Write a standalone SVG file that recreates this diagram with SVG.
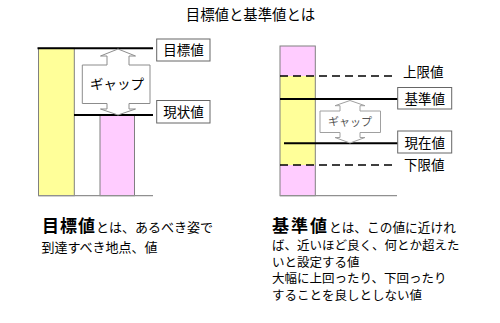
<svg xmlns="http://www.w3.org/2000/svg" width="500" height="323" viewBox="0 0 500 323">
<style>
text{font-family:"Liberation Sans","Noto Sans CJK JP",sans-serif;fill:#000}
.bar{stroke:#808080;stroke-width:1}
.y{fill:#FFFF99}
.p{fill:#FFCCFF}
.solid{stroke:#000;stroke-width:2;fill:none}
.dash{stroke:#000;stroke-width:1.5;stroke-dasharray:8 5;fill:none}
.base{stroke:#909090;stroke-width:1.2;fill:none}
.box{fill:#fff;stroke:#666;stroke-width:1}
.lbl{font-size:13.5px;text-anchor:middle}
.body{font-size:12.5px}
</style>
<text x="250.5" y="20" font-size="14.4" text-anchor="middle">目標値と基準値とは</text>

<g id="left-diagram">
  <g id="left-bars">
    <rect class="bar y" x="38.5" y="48.3" width="35.8" height="147.4"/>
    <rect class="bar p" x="100" y="115" width="34.5" height="80.7"/>
  </g>
  <g id="connectors-left">
    <line class="base" x1="38.5" y1="195.7" x2="153" y2="195.7"/>
    <line class="solid" x1="37.5" y1="48.3" x2="153" y2="48.3"/>
    <line class="solid" x1="74" y1="115" x2="153" y2="115"/>
  </g>
  <g id="gap-left">
    <polygon points="118,49 135.5,56 129,56 129,65 150,65 150,103.5 129,103.5 129,109 135.5,109 118,115 100.5,109 107,109 107,103.5 82.3,103.5 82.3,65 107,65 107,56 100.5,56" fill="#fff" stroke="#8c8c8c" stroke-width="1"/>
    <text x="117" y="88.5" font-size="13.5" text-anchor="middle">ギャップ</text>
  </g>
  <g id="label-target">
    <rect class="box" x="156.7" y="39" width="53.3" height="22"/>
    <text class="lbl" x="183.4" y="55">目標値</text>
  </g>
  <g id="label-current-left">
    <rect class="box" x="156.7" y="100.5" width="53.3" height="22.5"/>
    <text class="lbl" x="183.4" y="116.8">現状値</text>
  </g>
</g>

<g id="right-diagram">
  <g id="right-bar">
    <rect class="p" x="280" y="46" width="35.3" height="30"/>
    <rect class="y" x="280" y="76" width="35.3" height="89"/>
    <rect class="p" x="280" y="165" width="35.3" height="30.7"/>
    <rect x="280" y="46" width="35.3" height="149.7" fill="none" stroke="#808080" stroke-width="1"/>
  </g>
  <g id="connectors-right">
    <line class="base" x1="280" y1="195.7" x2="397" y2="195.7"/>
    <line class="dash" x1="280" y1="76" x2="397" y2="76"/>
    <line class="dash" x1="280" y1="165" x2="397" y2="165"/>
    <line class="solid" x1="280" y1="99" x2="398" y2="99"/>
    <line class="solid" x1="284" y1="143.3" x2="398" y2="143.3"/>
  </g>
  <g id="gap-right">
    <polygon points="350,100.5 365,105.7 360,105.7 360,111 380.5,111 380.5,132.5 360,132.5 360,137.5 365,137.5 350,143 335,137.5 340,137.5 340,132.5 320,132.5 320,111 340,111 340,105.7 335,105.7" fill="#fff" stroke="#a0a0a0" stroke-width="1"/>
    <text x="350" y="126" font-size="11" text-anchor="middle" style="fill:#555">ギャップ</text>
  </g>
  <g id="label-upper">
    <text x="403" y="77" font-size="13.5">上限値</text>
  </g>
  <g id="label-standard">
    <rect class="box" x="397.7" y="87.5" width="54" height="21.5"/>
    <text class="lbl" x="424.7" y="104" font-size="14">基準値</text>
  </g>
  <g id="label-current-right">
    <rect class="box" x="397.7" y="131" width="54" height="22"/>
    <text class="lbl" x="424.7" y="147.8">現在値</text>
  </g>
  <g id="label-lower">
    <text x="404" y="170" font-size="13.5">下限値</text>
  </g>
</g>

<g id="left-text">
  <text x="42" y="231.5"><tspan font-size="17" font-weight="bold" letter-spacing="1">目標値</tspan><tspan font-size="13">とは、あるべき姿で</tspan></text>
  <text x="41.5" y="251.5" font-size="13">到達すべき地点、値</text>
</g>
<g id="right-text">
  <text x="272" y="232"><tspan font-size="17" font-weight="bold" letter-spacing="2">基準値</tspan><tspan font-size="12.7">とは、この値に近けれ</tspan></text>
  <text class="body" x="272" y="250">ば、近いほど良く、何とか超えた</text>
  <text class="body" x="272" y="266.7">いと設定する値</text>
  <text class="body" x="272" y="283.3">大幅に上回ったり、下回ったり</text>
  <text class="body" x="272" y="300">することを良しとしない値</text>
</g>
</svg>
